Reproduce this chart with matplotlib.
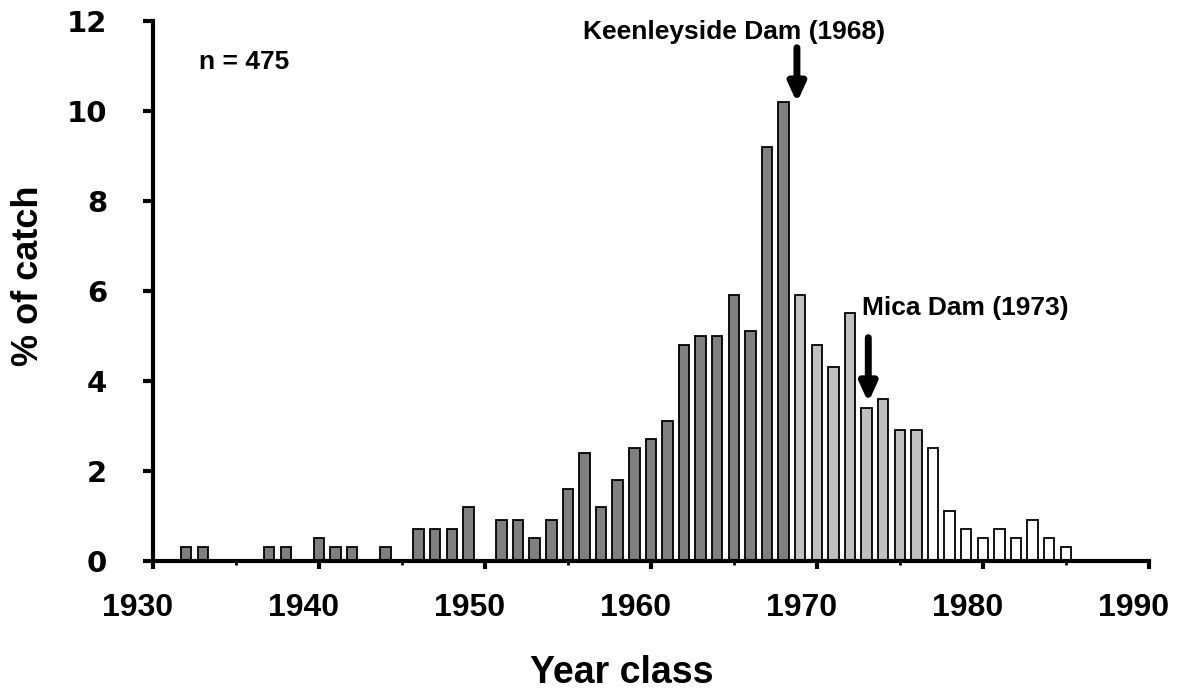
import matplotlib
matplotlib.use('Agg')
import matplotlib.pyplot as plt
import matplotlib.transforms as mtransforms
from matplotlib.ticker import MultipleLocator

# year classes and % of catch, grouped by fill shade
dark_years = [1932, 1933, 1937, 1938, 1940, 1941, 1942, 1944, 1946, 1947, 1948, 1949,
              1951, 1952, 1953, 1954, 1955, 1956, 1957, 1958, 1959, 1960, 1961, 1962,
              1963, 1964, 1965, 1966, 1967, 1968]
dark_pct = [0.3, 0.3, 0.3, 0.3, 0.5, 0.3, 0.3, 0.3, 0.7, 0.7, 0.7, 1.2,
            0.9, 0.9, 0.5, 0.9, 1.6, 2.4, 1.2, 1.8, 2.5, 2.7, 3.1, 4.8,
            5.0, 5.0, 5.9, 5.1, 9.2, 10.2]
light_years = [1969, 1970, 1971, 1972, 1973, 1974, 1975, 1976]
light_pct = [5.9, 4.8, 4.3, 5.5, 3.4, 3.6, 2.9, 2.9]
white_years = [1977, 1978, 1979, 1980, 1981, 1982, 1983, 1984, 1985]
white_pct = [2.5, 1.1, 0.7, 0.5, 0.7, 0.5, 0.9, 0.5, 0.3]

y_ticks = [0, 2, 4, 6, 8, 10, 12]
x_ticks = [1930, 1940, 1950, 1960, 1970, 1980, 1990]

arial = ['Liberation Sans', 'DejaVu Sans']

fig = plt.figure(figsize=(11.77, 6.9), dpi=100)
ax = fig.add_axes([0.13, 0.187, 0.846, 0.783])

bw = 0.63
ax.bar(dark_years, dark_pct, width=bw, color='#808080', edgecolor='black', linewidth=1.3, zorder=2)
ax.bar(light_years, light_pct, width=bw, color='#c0c0c0', edgecolor='black', linewidth=1.3, zorder=2)
ax.bar(white_years, white_pct, width=bw, color='white', edgecolor='black', linewidth=1.3, zorder=2)

ax.set_xlim(1930, 1990)
ax.set_ylim(0, 12)
ax.set_xticks(x_ticks)
ax.xaxis.set_minor_locator(MultipleLocator(5))
ax.set_yticks(y_ticks)

for s in ['top', 'right']:
    ax.spines[s].set_visible(False)
for s in ['left', 'bottom']:
    ax.spines[s].set_linewidth(3)
    ax.spines[s].set_zorder(3)

ax.tick_params(axis='x', which='major', direction='out', length=6, width=3, pad=17)
ax.tick_params(axis='x', which='minor', direction='out', length=3, width=2)
ax.tick_params(axis='y', which='major', direction='out', length=7, width=3, pad=26)

# year labels sit a little left of their ticks in the original
shift = mtransforms.ScaledTranslation(-0.15, 0, fig.dpi_scale_trans)
for lab in ax.get_xticklabels():
    lab.set_fontfamily(arial)
    lab.set_fontweight('bold')
    lab.set_fontsize(23)
    lab.set_transform(lab.get_transform() + shift)
for lab in ax.get_yticklabels():
    lab.set_fontfamily('DejaVu Sans')
    lab.set_fontweight('bold')
    lab.set_fontsize(21)

fig.text(0.528, 0.024, 'Year class', ha='center', va='center',
         fontsize=27, fontweight='bold', family=arial)
fig.text(0.024, 0.60, '% of catch', ha='center', va='center', rotation=90,
         fontsize=26, fontweight='bold', family=arial)

ax.text(1932.8, 11.09, 'n = 475', ha='left', va='center',
        fontsize=19, fontweight='bold', family=arial)

ax.text(1965.0, 11.76, 'Keenleyside Dam (1968)', ha='center', va='center',
        fontsize=19, fontweight='bold', family=arial)
ax.annotate('', xy=(1968.8, 10.18), xytext=(1968.8, 11.4),
            arrowprops=dict(arrowstyle='-|>,head_width=0.5,head_length=1.1',
                            lw=5, color='black', shrinkA=0, shrinkB=0))

ax.text(1978.96, 5.62, 'Mica Dam (1973)', ha='center', va='center',
        fontsize=19, fontweight='bold', family=arial)
ax.annotate('', xy=(1973.1, 3.52), xytext=(1973.1, 4.96),
            arrowprops=dict(arrowstyle='-|>,head_width=0.5,head_length=1.1',
                            lw=5, color='black', shrinkA=0, shrinkB=0))

fig.savefig('out.png', dpi=100)
